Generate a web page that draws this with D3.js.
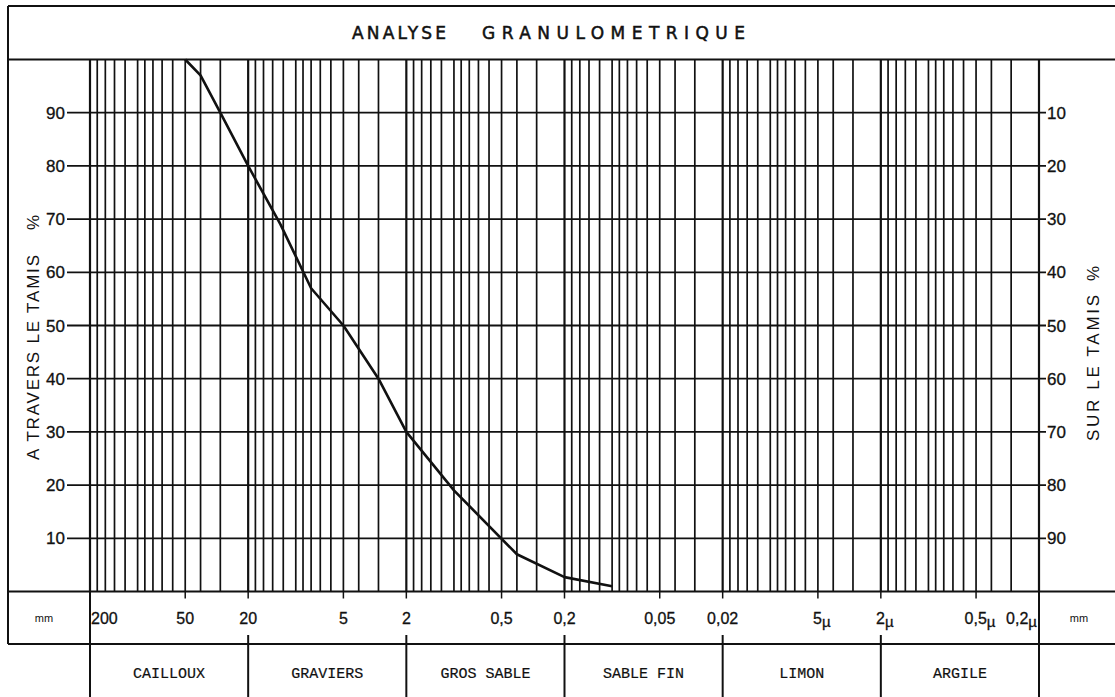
<!DOCTYPE html>
<html>
<head>
<meta charset="utf-8">
<script src="https://cdn.jsdelivr.net/npm/d3@7"></script>
<style>
  html, body { margin: 0; padding: 0; background: #fff; }
  svg { display: block; }
</style>
</head>
<body>
<svg id="chart" width="1115" height="697"></svg>
<script>
// ---------- DATA ----------
const titleWords = ["ANALYSE", "GRANULOMETRIQUE"];
const leftAxisTitle = "A TRAVERS LE TAMIS";
const rightAxisTitle = "SUR LE TAMIS";
const unitLabel = "mm";

// grain diameter (mm) and percent passing the sieve
const diameters = [50, 40, 30, 20, 12.5, 8, 5, 3, 2, 1, 0.4, 0.2, 0.1];
const passing   = [100, 97, 90, 80, 69, 57, 50, 40, 30, 19, 7, 2.7, 1];

// y ticks (percent)
const yTicks = [10, 20, 30, 40, 50, 60, 70, 80, 90];

// x tick labels
const xTickValues = [200, 50, 20, 5, 2, 0.5, 0.2, 0.05, 0.02, 0.005, 0.002, 0.0005, 0.0002];
const xTickMain   = ["200", "50", "20", "5", "2", "0,5", "0,2", "0,05", "0,02", "5", "2", "0,5", "0,2"];
const xTickSuffix = ["", "", "", "", "", "", "", "", "", "µ", "µ", "µ", "µ"];

// log paper grid
const gridDecades = [0.0001, 0.001, 0.01, 0.1, 1, 10, 100];
const gridMantissas = [1, 1.2, 1.4, 1.6, 1.8, 2, 3, 4, 5, 6, 7, 8, 9];

// soil classes
const categories = ["CAILLOUX", "GRAVIERS", "GROS SABLE", "SABLE FIN", "LIMON", "ARGILE"];
const categoryBounds = [200, 20, 2, 0.2, 0.02, 0.002, 0.0002];

// ---------- LAYOUT ----------
const W = 1115, H = 697;
const frameLeft = 8, frameTop = 6, frameRight = 1115;
const titleBottom = 59.5;
const plotLeft = 90, plotRight = 1039, plotTop = 59.5, plotBottom = 591.5;
const mmRowBottom = 644;

const x = d3.scaleLog().domain([200, 0.0002]).range([plotLeft, plotRight]);
const y = d3.scaleLinear().domain([0, 100]).range([plotBottom, plotTop]);

const svg = d3.select("#chart");
const ink = "#111";

// ---------- GRID ----------
const gridValues = [];
gridDecades.forEach(dec => gridMantissas.forEach(m => {
  const v = +(m * dec).toPrecision(6);
  if (v >= 0.0002 - 1e-12 && v <= 200 + 1e-9) gridValues.push(v);
}));
const isDecade = v => categoryBounds.some(b => Math.abs(b - v) / b < 1e-6);

svg.append("g").selectAll("line")
  .data(gridValues)
  .join("line")
  .attr("x1", d => x(d)).attr("x2", d => x(d))
  .attr("y1", plotTop).attr("y2", plotBottom)
  .attr("stroke", ink)
  .attr("stroke-width", d => isDecade(d) ? 2.2 : 1.7);

// horizontal lines with left/right tick stubs
svg.append("g").selectAll("line")
  .data(yTicks)
  .join("line")
  .attr("x1", 67).attr("x2", 1046)
  .attr("y1", d => y(d)).attr("y2", d => y(d))
  .attr("stroke", ink).attr("stroke-width", 1.8);

// small ticks below the plot for labelled values
svg.append("g").selectAll("line")
  .data(xTickValues)
  .join("line")
  .attr("x1", d => x(d)).attr("x2", d => x(d))
  .attr("y1", plotBottom).attr("y2", plotBottom + 7)
  .attr("stroke", ink).attr("stroke-width", 1.5);

// ---------- FRAME ----------
const frame = svg.append("g").attr("stroke", ink).attr("stroke-width", 2).attr("fill", "none");
frame.append("line").attr("x1", frameLeft).attr("x2", frameRight).attr("y1", frameTop).attr("y2", frameTop);
frame.append("line").attr("x1", frameLeft).attr("x2", frameRight).attr("y1", titleBottom).attr("y2", titleBottom);
frame.append("line").attr("x1", frameLeft).attr("x2", frameRight).attr("y1", plotBottom).attr("y2", plotBottom);
frame.append("line").attr("x1", frameLeft).attr("x2", frameRight).attr("y1", mmRowBottom).attr("y2", mmRowBottom);
frame.append("line").attr("x1", frameLeft).attr("x2", frameLeft).attr("y1", frameTop).attr("y2", mmRowBottom);
frame.append("line").attr("x1", plotLeft).attr("x2", plotLeft).attr("y1", plotTop).attr("y2", H);
frame.append("line").attr("x1", plotRight).attr("x2", plotRight).attr("y1", plotTop).attr("y2", H);

// category dividers
svg.append("g").selectAll("line")
  .data(categoryBounds.slice(1, -1))
  .join("line")
  .attr("x1", d => x(d)).attr("x2", d => x(d))
  .attr("y1", mmRowBottom - 9).attr("y2", H)
  .attr("stroke", ink).attr("stroke-width", 2);

// ---------- CURVE ----------
const pts = diameters.map((d, i) => [d, passing[i]]);
svg.append("path")
  .datum(pts)
  .attr("fill", "none")
  .attr("stroke", ink)
  .attr("stroke-width", 2.6)
  .attr("stroke-linejoin", "round")
  .attr("d", d3.line().x(d => x(d[0])).y(d => y(d[1])));

// ---------- TEXT ----------
const sans = "'Liberation Sans', Arial, sans-serif";

// title
const titleG = svg.append("g")
  .attr("font-family", "'DejaVu Sans', sans-serif")
  .attr("font-size", 17).attr("fill", ink)
  .attr("stroke", ink).attr("stroke-width", 0.5);
titleG.append("text").attr("x", 352).attr("y", 39)
  .attr("textLength", 94).attr("lengthAdjust", "spacing").text(titleWords[0]);
titleG.append("text").attr("x", 482).attr("y", 39)
  .attr("textLength", 263).attr("lengthAdjust", "spacing").text(titleWords[1]);

// left y labels
svg.append("g").selectAll("text")
  .data(yTicks)
  .join("text")
  .attr("x", 65).attr("y", d => y(d) + 6)
  .attr("text-anchor", "end")
  .attr("font-family", sans).attr("font-size", 17)
  .attr("fill", ink).attr("stroke", ink).attr("stroke-width", 0.3)
  .text(d => d);

// right y labels (percent retained)
svg.append("g").selectAll("text")
  .data(yTicks)
  .join("text")
  .attr("x", 1047).attr("y", d => y(d) + 6)
  .attr("font-family", sans).attr("font-size", 17)
  .attr("fill", ink).attr("stroke", ink).attr("stroke-width", 0.3)
  .text(d => 100 - d);

// axis titles
svg.append("text")
  .attr("transform", "translate(39,460) rotate(-90)")
  .attr("font-family", sans).attr("font-size", 17).attr("fill", ink)
  .attr("textLength", 205).attr("lengthAdjust", "spacing")
  .text(leftAxisTitle);
svg.append("text")
  .attr("transform", "translate(39,230) rotate(-90)")
  .attr("font-family", sans).attr("font-size", 17).attr("fill", ink)
  .text("%");
svg.append("text")
  .attr("transform", "translate(1099,441) rotate(-90)")
  .attr("font-family", sans).attr("font-size", 17).attr("fill", ink)
  .attr("textLength", 146).attr("lengthAdjust", "spacing")
  .text(rightAxisTitle);
svg.append("text")
  .attr("transform", "translate(1099,281) rotate(-90)")
  .attr("font-family", sans).attr("font-size", 17).attr("fill", ink)
  .text("%");

// x tick labels
const xt = svg.append("g")
  .attr("font-family", sans).attr("font-size", 16)
  .attr("fill", ink).attr("stroke", ink).attr("stroke-width", 0.3);
xTickValues.forEach((v, i) => {
  const anchor = i === 0 ? "start" : (i === xTickValues.length - 1 ? "end" : "middle");
  const dx = i === 0 ? 1 : (i === xTickValues.length - 1 ? -2 : (xTickSuffix[i] ? 4 : 0));
  const t = xt.append("text")
    .attr("x", x(v) + dx).attr("y", 624)
    .attr("text-anchor", anchor);
  t.append("tspan").text(xTickMain[i]);
  if (xTickSuffix[i]) t.append("tspan").attr("dy", 3).attr("font-size", 15).text(xTickSuffix[i]);
});

// unit labels
svg.append("text").attr("x", 44).attr("y", 622).attr("text-anchor", "middle")
  .attr("font-family", sans).attr("font-size", 11).attr("fill", ink).text(unitLabel);
svg.append("text").attr("x", 1079).attr("y", 622).attr("text-anchor", "middle")
  .attr("font-family", sans).attr("font-size", 11).attr("fill", ink).text(unitLabel);

// categories
svg.append("g").selectAll("text")
  .data(categories)
  .join("text")
  .attr("x", (d, i) => (x(categoryBounds[i]) + x(categoryBounds[i + 1])) / 2)
  .attr("y", 678)
  .attr("text-anchor", "middle")
  .attr("font-family", "'Liberation Mono', 'Courier New', monospace")
  .attr("font-size", 15)
  .attr("fill", ink).attr("stroke", ink).attr("stroke-width", 0.2)
  .text(d => d);
</script>
</body>
</html>
